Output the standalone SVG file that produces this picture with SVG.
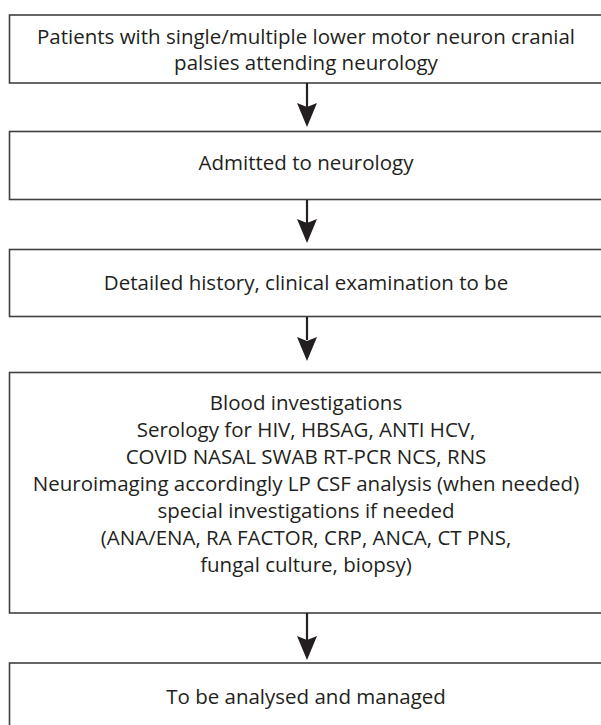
<svg xmlns="http://www.w3.org/2000/svg" width="601" height="725" viewBox="0 0 601 725">
<style>
.box{fill:#fff;stroke:#404040;stroke-width:1.6}
.t{font-family:"Open Sans","Noto Sans",sans-serif;font-size:20.5px;fill:#231f20;text-anchor:middle}
.ln{stroke:#231f20;stroke-width:2.2;fill:none}
.hd{fill:#231f20}
</style>
<rect width="601" height="725" fill="#fff"/>
<g id="n1"><rect class="box" x="9.5" y="15" width="595" height="68"/>
<text class="t" x="306" y="44">Patients with single/multiple lower motor neuron cranial</text>
<text class="t" x="306" y="70">palsies attending neurology</text></g>
<g id="n2"><rect class="box" x="9.5" y="131.5" width="595" height="68"/>
<text class="t" x="306" y="170">Admitted to neurology</text></g>
<g id="n3"><rect class="box" x="9.5" y="249.5" width="595" height="67"/>
<text class="t" x="306" y="290">Detailed history, clinical examination to be</text></g>
<g id="n4"><rect class="box" x="9.5" y="372.5" width="595" height="240.5"/>
<text class="t" x="306" y="410">Blood investigations</text>
<text class="t" x="306" y="437">Serology for HIV, HBSAG, ANTI HCV,</text>
<text class="t" x="306" y="464">COVID NASAL SWAB RT-PCR NCS, RNS</text>
<text class="t" x="306" y="491">Neuroimaging accordingly LP CSF analysis (when needed)</text>
<text class="t" x="306" y="518">special investigations if needed</text>
<text class="t" x="306" y="545">(ANA/ENA, RA FACTOR, CRP, ANCA, CT PNS,</text>
<text class="t" x="306" y="572">fungal culture, biopsy)</text></g>
<g id="n5"><rect class="box" x="9.5" y="663" width="595" height="80"/>
<text class="t" x="306" y="704">To be analysed and managed</text></g>
<g id="connectors">
<path class="ln" d="M307,83V108"/><path class="hd" d="M307,127L297,103L307,107L317,103Z"/>
<path class="ln" d="M307,200V223"/><path class="hd" d="M307,243L297,219L307,223L317,219Z"/>
<path class="ln" d="M307,317V340"/><path class="hd" d="M307,361L297,337L307,341L317,337Z"/>
<path class="ln" d="M307,613V640"/><path class="hd" d="M307,660L297,636L307,640L317,636Z"/>
</g>
</svg>
